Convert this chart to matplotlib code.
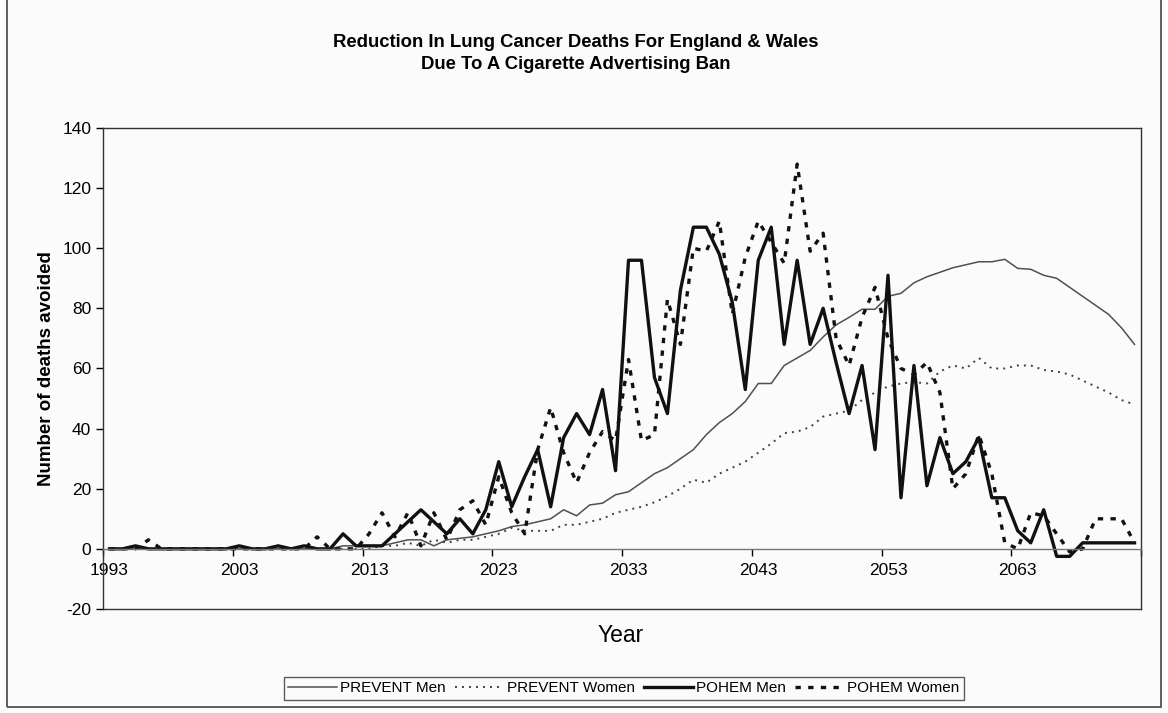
import matplotlib
matplotlib.use('Agg')
import matplotlib.pyplot as plt
from matplotlib.patches import Rectangle

# Years on the category axis (one value per year).
years = list(range(1993, 2073))

# Deaths avoided, one row per decade (1993-2002, 2003-2012, ...).
prevent_men = [
	0, 0, 0, 0, 0, 0, 0, 0, 0, 0,
	0, 0, 0, 0, 0, 0, 0, 0, 1, 1,
	1, 1, 2, 3, 3, 1, 3, 3.5, 4, 5,
	6, 7.4, 8, 9, 10, 13, 11, 14.6, 15.2, 18,
	19, 22, 25, 27, 30, 33, 38, 42, 45, 49,
	55, 55, 61, 63.5, 66, 70.5, 74.5, 77, 79.7, 79.7,
	84, 85, 88.5, 90.5, 92, 93.5, 94.5, 95.5, 95.5, 96.3,
	93.3, 93, 91, 90, 87, 84, 81, 78, 73.5, 68,
]
prevent_women = [
	0, 0, 0, 0, 0, 0, 0, 0, 0, 0,
	0, 0, 0, 0, 0, 0, 0, 0, 0, 0,
	0, 1, 1, 2, 1, 3, 2, 3, 3, 4,
	5, 7, 6, 6, 6, 8, 8, 9, 10, 12,
	13, 14, 15.5, 17.5, 20, 23, 22, 25, 27, 29,
	32, 35, 38.5, 39, 40.5, 44, 45, 46, 49.5, 52,
	54, 55, 55.5, 55, 59, 61, 60, 63.5, 60, 60,
	61, 61, 59.5, 59, 58, 56, 54, 52, 49.5, 48,
]
pohem_men = [
	0, 0, 1, 0, 0, 0, 0, 0, 0, 0,
	1, 0, 0, 1, 0, 1, 0, 0, 5, 1,
	1, 1, 5, 9, 13, 9, 5, 10, 5, 13,
	29, 14, 24, 33, 14, 37, 45, 38, 53, 26,
	96, 96, 57, 45, 86, 107, 107, 98, 82, 53,
	96, 107, 68, 96, 68, 80, 62, 45, 61, 33,
	91, 17, 61, 21, 37, 25, 29, 37, 17, 17,
	6, 2, 13, -2.5, -2.5, 2, 2, 2, 2, 2,
]
pohem_women = [
	0, 0, 0, 3, 0, 0, 0, 0, 0, 0,
	0, 0, 0, 0, 0, 0, 4, 0, 0, 0,
	5, 12, 4, 12, 1, 12, 3, 13, 16, 8,
	24, 12, 5, 33, 47, 32, 22, 32, 39, 36,
	63, 36, 38, 83, 68, 100, 99, 109, 78, 97,
	109, 102, 95, 128, 99, 105, 70, 61, 77, 87,
	70, 60, 58, 62, 52, 20, 25, 38, 25, 2,
	0, 12, 11, 5, -1, 0, 10, 10, 10, 2,
]

label_years = years[::10]
y_ticks = list(range(-20, 141, 20))

plt.rcParams['font.family'] = ['Liberation Sans', 'DejaVu Sans']

fig = plt.figure(figsize=(11.68, 7.13), dpi=100, facecolor='#fbfbfb')
ax = fig.add_axes([0.0882, 0.1459, 0.8887, 0.6746])
ax.set_facecolor('#fbfbfb')

ax.plot(years, prevent_men, color='#505050', lw=1.1, label='PREVENT Men')
ax.plot(years, prevent_women, color='#404040', lw=1.4, linestyle=(0, (1, 2.6)),
	label='PREVENT Women')
ax.plot(years, pohem_men, color='#111111', lw=2.4, label='POHEM Men')
ax.plot(years, pohem_women, color='#111111', lw=2.4, linestyle=(0, (1.6, 2.2)),
	label='POHEM Women')

# Category axis: tick marks between years, labels centred on the year.
ax.set_xlim(years[0] - 0.5, years[-1] + 0.5)
ax.set_ylim(-20, 140)
ax.set_xticks([y - 0.5 for y in years[::10]] + [years[-1] + 0.5])
ax.set_xticklabels([])
ax.set_xticks(label_years, minor=True)
ax.set_xticklabels([str(y) for y in label_years], minor=True)
ax.tick_params(axis='x', which='major', direction='out', length=5, width=1)
ax.tick_params(axis='x', which='minor', length=0, pad=10, labelsize=12.5)
ax.set_yticks(y_ticks)
ax.set_yticklabels([str(v) for v in y_ticks])
ax.tick_params(axis='y', direction='out', length=5, width=1, labelsize=12.5)

# Horizontal axis crosses at zero; keep the plot area framed.
ax.spines['bottom'].set_position(('data', 0))
for side in ['left', 'right', 'top', 'bottom']:
	ax.spines[side].set_color('#333333')
	ax.spines[side].set_linewidth(1.0)
ax.spines['bottom'].set_color('#777777')
ax.plot([0, 1], [0, 0], transform=ax.transAxes, color='#333333', lw=1.0, clip_on=False)

ax.set_ylabel('Number of deaths avoided', fontsize=13.5, fontweight='bold', labelpad=5)
fig.text(0.531, 0.108, 'Year', fontsize=16.5, ha='center', va='center')

fig.text(0.493, 0.941, 'Reduction In Lung Cancer Deaths For England & Wales',
	fontsize=13.3, fontweight='bold', ha='center', va='center')
fig.text(0.493, 0.910, 'Due To A Cigarette Advertising Ban',
	fontsize=13.3, fontweight='bold', ha='center', va='center')

leg = fig.legend(loc='center', bbox_to_anchor=(0.534, 0.0344), ncol=4, fontsize=11,
	frameon=True, fancybox=False, edgecolor='#333333', handlelength=3.2,
	handletextpad=0.2, columnspacing=0.6, borderpad=0.3)
leg.get_frame().set_linewidth(1.0)
leg.get_frame().set_facecolor('#fbfbfb')

# Outer chart border.
fig.patches.append(Rectangle((0.006, 0.008), 0.988, 1.1, transform=fig.transFigure,
	fill=False, edgecolor='#444444', lw=1.2))

fig.savefig('out.png', dpi=100, facecolor=fig.get_facecolor())
